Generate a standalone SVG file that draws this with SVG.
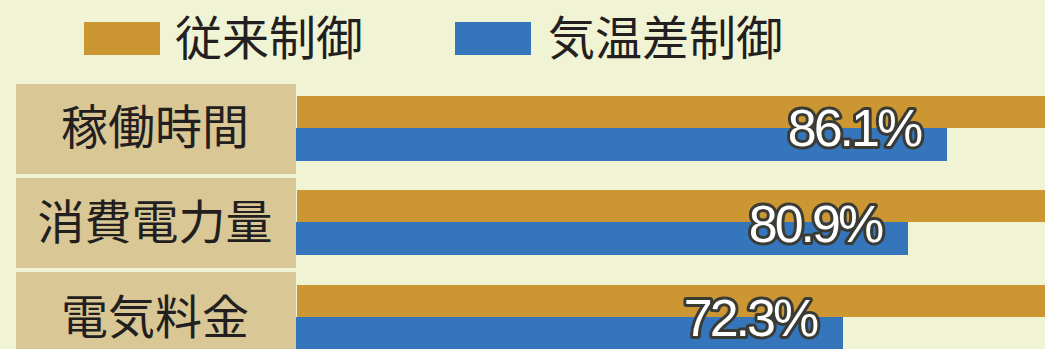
<svg xmlns="http://www.w3.org/2000/svg" width="1045" height="349" viewBox="0 0 1045 349">
<style>
.cjk{font-family:"Noto Sans CJK JP","Noto Sans CJK SC",sans-serif;fill:#231f20;font-size:47px}
.lab{text-anchor:middle}
.org{fill:#cc9733}
.blu{fill:#3575bb}
.box{fill:#d9c796}
.pct{font-family:"Liberation Sans",Arial,sans-serif;font-size:52px;fill:#ffffff;stroke:#3a3b35;stroke-width:6;stroke-linejoin:round;paint-order:stroke;text-anchor:middle;letter-spacing:-3px}
</style>
<rect width="1045" height="349" fill="#f1f4d4"/>
<g id="legend">
<rect class="org" x="84" y="22" width="76" height="33"/>
<text class="cjk" x="175" y="55">従来制御</text>
<rect class="blu" x="455" y="22" width="76" height="33"/>
<text class="cjk" x="548" y="55">気温差制御</text>
</g>
<g id="row1">
<rect class="box" x="16" y="84" width="280" height="90"/>
<text class="cjk lab" x="155" y="144">稼働時間</text>
<rect class="org" x="297" y="96" width="748" height="32"/>
<rect class="blu" x="296" y="128" width="651" height="33"/>
<text class="pct" x="854" y="146">86.1%</text>
</g>
<g id="row2">
<rect class="box" x="16" y="178" width="280" height="90"/>
<text class="cjk lab" x="155" y="239">消費電力量</text>
<rect class="org" x="297" y="190" width="748" height="32"/>
<rect class="blu" x="296" y="222" width="612" height="33"/>
<text class="pct" x="815" y="242">80.9%</text>
</g>
<g id="row3">
<rect class="box" x="16" y="272" width="280" height="90"/>
<text class="cjk lab" x="155" y="334">電気料金</text>
<rect class="org" x="297" y="285" width="748" height="32"/>
<rect class="blu" x="296" y="317" width="547" height="33"/>
<text class="pct" x="750" y="336">72.3%</text>
</g>
<g id="connectors"/>
</svg>
